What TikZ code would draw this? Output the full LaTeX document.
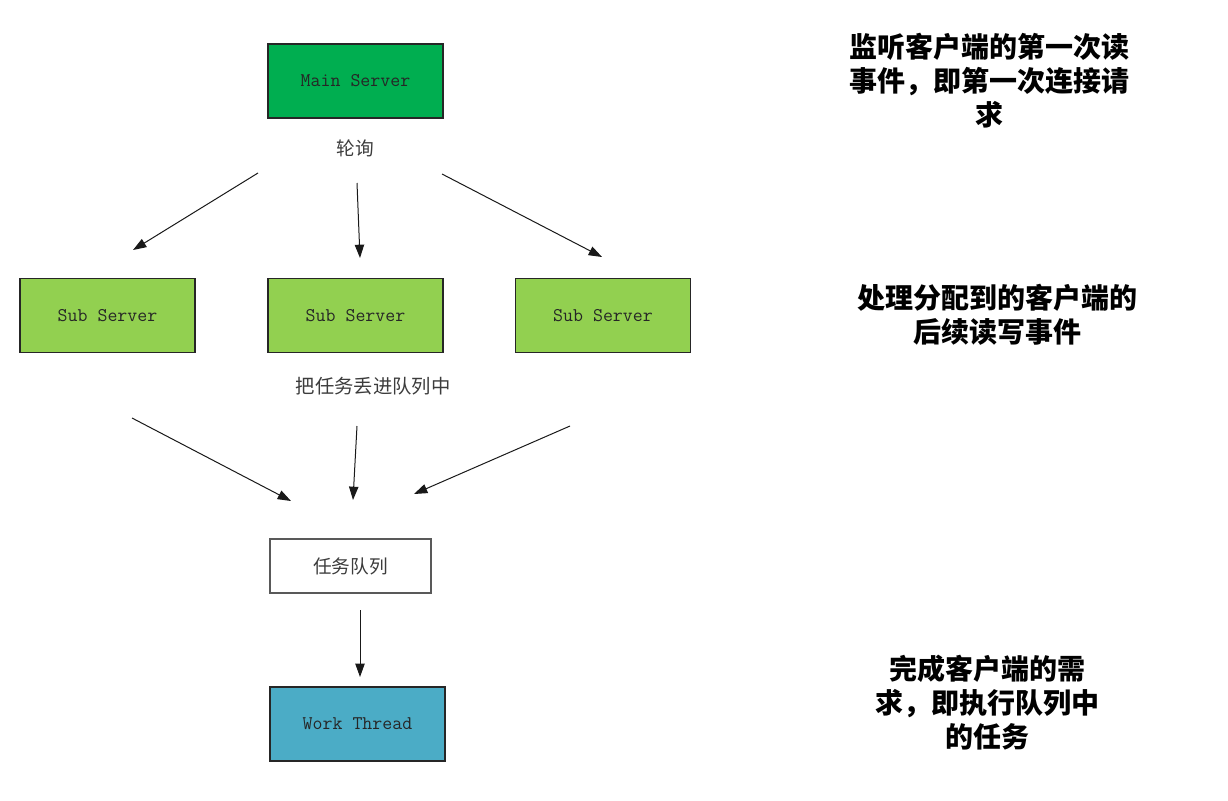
\documentclass[tikz,border=0pt]{standalone}
\usepackage{fontspec}
\newfontfamily\cjk{Noto Sans CJK SC}
\usetikzlibrary{arrows.meta}
\definecolor{maingreen}{RGB}{0,174,80}
\definecolor{subgreen}{RGB}{146,208,80}
\definecolor{workblue}{RGB}{75,172,198}
\definecolor{labelgray}{RGB}{60,60,60}
\tikzset{
  box/.style={draw=black!85, line width=0.8pt, minimum width=131.25pt, minimum height=55.5pt, inner sep=0pt, font=\ttfamily\fontsize{14.5}{17}\selectfont, text=black!85},
  qbox/.style={draw=black!65, line width=0.8pt, fill=white, minimum width=120.75pt, minimum height=40.5pt, inner sep=0pt, font=\cjk\fontsize{14}{16}\selectfont, text=labelgray},
  lbl/.style={font=\cjk\fontsize{14}{16}\selectfont, text=labelgray, inner sep=0pt},
  note/.style={font=\cjk\bfseries\fontsize{21}{25.5}\selectfont, align=center, inner sep=0pt, text=black},
  arr/.style={draw=black!90, line width=0.75pt, -{Triangle[length=10pt,width=7pt]}}
}
\begin{document}
\begin{tikzpicture}[x=0.75pt,y=-0.75pt]
\useasboundingbox (0,0) rectangle (1228,800);
% nodes
\node[box, fill=maingreen] (main) at (355.5,81) {Main Server};
\node[lbl] (poll) at (355,148) {轮询};
\node[box, fill=subgreen] (sub1) at (107.5,315.5) {Sub Server};
\node[box, fill=subgreen] (sub2) at (355.5,315.5) {Sub Server};
\node[box, fill=subgreen] (sub3) at (603,315.5) {Sub Server};
\node[lbl, font=\cjk\fontsize{14.5}{16}\selectfont] (put) at (373,386) {把任务丢进队列中};
\node[qbox] (queue) at (350.5,566) {任务队列};
\node[box, fill=workblue] (work) at (357.5,724) {Work Thread};
% notes
\node[note] (n1) at (989,81) {监听客户端的第一次读\\事件，即第一次连接请\\求};
\node[note] (n2) at (997,315) {处理分配到的客户端的\\后续读写事件};
\node[note] (n3) at (987,703) {完成客户端的需\\求，即执行队列中\\的任务};
% arrow coordinates
\coordinate (a1s) at (258,173); \coordinate (a1e) at (133,250);
\coordinate (a2s) at (357,183); \coordinate (a2e) at (360,258);
\coordinate (a3s) at (442,174); \coordinate (a3e) at (602,257);
\coordinate (b1s) at (132,418); \coordinate (b1e) at (291,501);
\coordinate (b2s) at (357,426); \coordinate (b2e) at (353,500);
\coordinate (b3s) at (570,426); \coordinate (b3e) at (414,494);
\coordinate (c1s) at (360,610); \coordinate (c1e) at (360,677);
\draw[arr] (a1s) -- (a1e);
\draw[arr] (a2s) -- (a2e);
\draw[arr] (a3s) -- (a3e);
\draw[arr] (b1s) -- (b1e);
\draw[arr] (b2s) -- (b2e);
\draw[arr] (b3s) -- (b3e);
\draw[arr] (c1s) -- (c1e);
\end{tikzpicture}
\end{document}
